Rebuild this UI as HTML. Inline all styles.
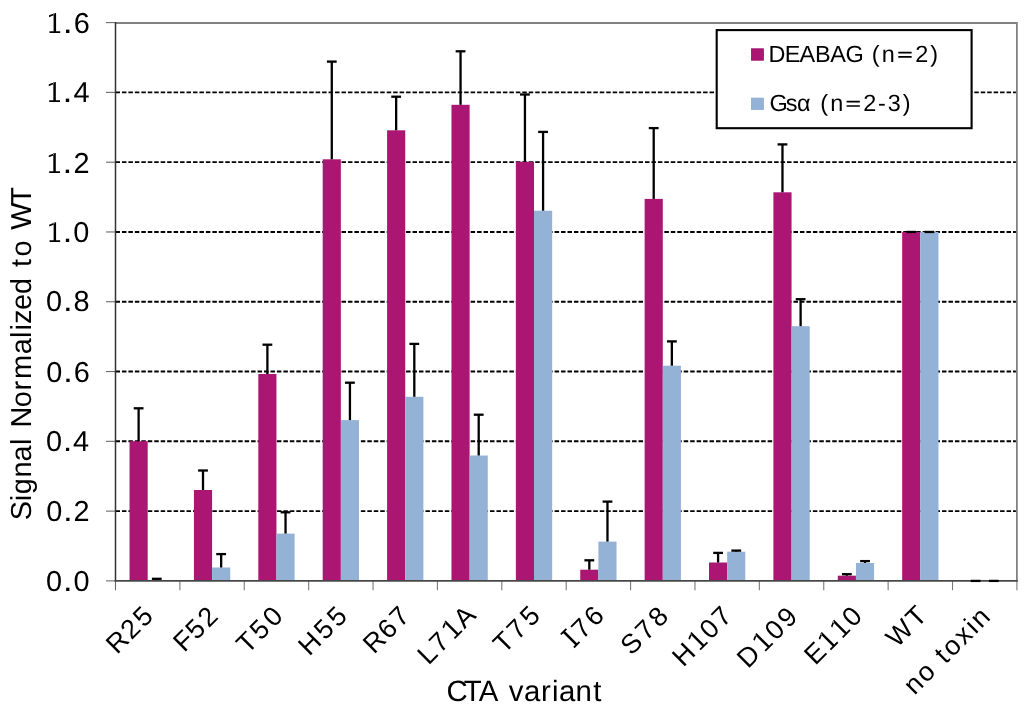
<!DOCTYPE html><html><head><meta charset="utf-8"><style>html,body{margin:0;padding:0;background:#fff;}svg{display:block;}text{font-family:"Liberation Sans", sans-serif;}</style></head><body>
<svg style="will-change:transform" width="1024" height="706" viewBox="0 0 1024 706" text-rendering="geometricPrecision">
<rect x="0" y="0" width="1024" height="706" fill="#fff"/>
<path d="M115.5 23.0H1016.9V580.9" fill="none" stroke="#828282" stroke-width="1.8"/>
<line x1="115.5" y1="511.11" x2="1015.9" y2="511.11" stroke="#000" stroke-width="1.9" stroke-dasharray="4.5 1.957"/>
<line x1="115.5" y1="441.32" x2="1015.9" y2="441.32" stroke="#000" stroke-width="1.9" stroke-dasharray="4.5 1.957"/>
<line x1="115.5" y1="371.54" x2="1015.9" y2="371.54" stroke="#000" stroke-width="1.9" stroke-dasharray="4.5 1.957"/>
<line x1="115.5" y1="301.75" x2="1015.9" y2="301.75" stroke="#000" stroke-width="1.9" stroke-dasharray="4.5 1.957"/>
<line x1="115.5" y1="231.96" x2="1015.9" y2="231.96" stroke="#000" stroke-width="1.9" stroke-dasharray="4.5 1.957"/>
<line x1="115.5" y1="162.17" x2="1015.9" y2="162.17" stroke="#000" stroke-width="1.9" stroke-dasharray="4.5 1.957"/>
<line x1="115.5" y1="92.39" x2="1015.9" y2="92.39" stroke="#000" stroke-width="1.9" stroke-dasharray="4.5 1.957"/>
<rect x="129.54" y="441.20" width="18.15" height="139.70" fill="#AB1672"/>
<rect x="147.69" y="580.00" width="18.15" height="0.90" fill="#94B2D6"/>
<rect x="193.93" y="490.00" width="18.15" height="90.90" fill="#AB1672"/>
<rect x="212.08" y="567.50" width="18.15" height="13.40" fill="#94B2D6"/>
<rect x="258.31" y="374.00" width="18.15" height="206.90" fill="#AB1672"/>
<rect x="276.46" y="533.60" width="18.15" height="47.30" fill="#94B2D6"/>
<rect x="322.70" y="159.30" width="18.15" height="421.60" fill="#AB1672"/>
<rect x="340.85" y="420.10" width="18.15" height="160.80" fill="#94B2D6"/>
<rect x="387.09" y="130.30" width="18.15" height="450.60" fill="#AB1672"/>
<rect x="405.24" y="396.80" width="18.15" height="184.10" fill="#94B2D6"/>
<rect x="451.47" y="104.80" width="18.15" height="476.10" fill="#AB1672"/>
<rect x="469.62" y="455.50" width="18.15" height="125.40" fill="#94B2D6"/>
<rect x="515.86" y="161.80" width="18.15" height="419.10" fill="#AB1672"/>
<rect x="534.01" y="210.70" width="18.15" height="370.20" fill="#94B2D6"/>
<rect x="580.24" y="569.70" width="18.15" height="11.20" fill="#AB1672"/>
<rect x="598.39" y="541.60" width="18.15" height="39.30" fill="#94B2D6"/>
<rect x="644.63" y="198.90" width="18.15" height="382.00" fill="#AB1672"/>
<rect x="662.78" y="365.70" width="18.15" height="215.20" fill="#94B2D6"/>
<rect x="709.01" y="562.50" width="18.15" height="18.40" fill="#AB1672"/>
<rect x="727.16" y="551.70" width="18.15" height="29.20" fill="#94B2D6"/>
<rect x="773.40" y="192.30" width="18.15" height="388.60" fill="#AB1672"/>
<rect x="791.55" y="326.20" width="18.15" height="254.70" fill="#94B2D6"/>
<rect x="837.79" y="575.70" width="18.15" height="5.20" fill="#AB1672"/>
<rect x="855.94" y="563.00" width="18.15" height="17.90" fill="#94B2D6"/>
<rect x="902.17" y="231.96" width="18.15" height="348.94" fill="#AB1672"/>
<rect x="920.32" y="231.96" width="18.15" height="348.94" fill="#94B2D6"/>
<rect x="966.56" y="580.90" width="18.15" height="0.00" fill="#AB1672"/>
<rect x="984.71" y="580.90" width="18.15" height="0.00" fill="#94B2D6"/>
<line x1="106.0" y1="580.90" x2="115.5" y2="580.90" stroke="#6a6a6a" stroke-width="1.1"/>
<line x1="106.0" y1="511.11" x2="115.5" y2="511.11" stroke="#6a6a6a" stroke-width="1.1"/>
<line x1="106.0" y1="441.32" x2="115.5" y2="441.32" stroke="#6a6a6a" stroke-width="1.1"/>
<line x1="106.0" y1="371.54" x2="115.5" y2="371.54" stroke="#6a6a6a" stroke-width="1.1"/>
<line x1="106.0" y1="301.75" x2="115.5" y2="301.75" stroke="#6a6a6a" stroke-width="1.1"/>
<line x1="106.0" y1="231.96" x2="115.5" y2="231.96" stroke="#6a6a6a" stroke-width="1.1"/>
<line x1="106.0" y1="162.17" x2="115.5" y2="162.17" stroke="#6a6a6a" stroke-width="1.1"/>
<line x1="106.0" y1="92.39" x2="115.5" y2="92.39" stroke="#6a6a6a" stroke-width="1.1"/>
<line x1="106.0" y1="22.60" x2="115.5" y2="22.60" stroke="#6a6a6a" stroke-width="1.1"/>
<line x1="115.5" y1="580.9" x2="115.5" y2="590.3" stroke="#6a6a6a" stroke-width="1.1"/>
<line x1="179.89" y1="580.9" x2="179.89" y2="590.1999999999999" stroke="#7a7a7a" stroke-width="1.1"/>
<line x1="244.27" y1="580.9" x2="244.27" y2="590.1999999999999" stroke="#7a7a7a" stroke-width="1.1"/>
<line x1="308.66" y1="580.9" x2="308.66" y2="590.1999999999999" stroke="#7a7a7a" stroke-width="1.1"/>
<line x1="373.04" y1="580.9" x2="373.04" y2="590.1999999999999" stroke="#7a7a7a" stroke-width="1.1"/>
<line x1="437.43" y1="580.9" x2="437.43" y2="590.1999999999999" stroke="#7a7a7a" stroke-width="1.1"/>
<line x1="501.81" y1="580.9" x2="501.81" y2="590.1999999999999" stroke="#7a7a7a" stroke-width="1.1"/>
<line x1="566.20" y1="580.9" x2="566.20" y2="590.1999999999999" stroke="#7a7a7a" stroke-width="1.1"/>
<line x1="630.59" y1="580.9" x2="630.59" y2="590.1999999999999" stroke="#7a7a7a" stroke-width="1.1"/>
<line x1="694.97" y1="580.9" x2="694.97" y2="590.1999999999999" stroke="#7a7a7a" stroke-width="1.1"/>
<line x1="759.36" y1="580.9" x2="759.36" y2="590.1999999999999" stroke="#7a7a7a" stroke-width="1.1"/>
<line x1="823.74" y1="580.9" x2="823.74" y2="590.1999999999999" stroke="#7a7a7a" stroke-width="1.1"/>
<line x1="888.13" y1="580.9" x2="888.13" y2="590.1999999999999" stroke="#7a7a7a" stroke-width="1.1"/>
<line x1="952.51" y1="580.9" x2="952.51" y2="590.1999999999999" stroke="#7a7a7a" stroke-width="1.1"/>
<line x1="1016.90" y1="580.9" x2="1016.90" y2="590.1999999999999" stroke="#7a7a7a" stroke-width="1.1"/>
<line x1="115.5" y1="22.0" x2="115.5" y2="581.6999999999999" stroke="#333" stroke-width="1.5"/>
<line x1="114.75" y1="580.9" x2="1017.8" y2="580.9" stroke="#484848" stroke-width="1.6"/>
<line x1="138.62" y1="441.20" x2="138.62" y2="408.30" stroke="#000" stroke-width="2.3"/>
<line x1="133.72" y1="408.30" x2="143.52" y2="408.30" stroke="#000" stroke-width="2.3"/>
<line x1="156.77" y1="580.00" x2="156.77" y2="578.80" stroke="#000" stroke-width="2.3"/>
<line x1="151.87" y1="578.80" x2="161.67" y2="578.80" stroke="#000" stroke-width="2.3"/>
<line x1="203.00" y1="490.00" x2="203.00" y2="470.50" stroke="#000" stroke-width="2.3"/>
<line x1="198.10" y1="470.50" x2="207.90" y2="470.50" stroke="#000" stroke-width="2.3"/>
<line x1="221.15" y1="567.50" x2="221.15" y2="554.10" stroke="#000" stroke-width="2.3"/>
<line x1="216.25" y1="554.10" x2="226.05" y2="554.10" stroke="#000" stroke-width="2.3"/>
<line x1="267.39" y1="374.00" x2="267.39" y2="344.70" stroke="#000" stroke-width="2.3"/>
<line x1="262.49" y1="344.70" x2="272.29" y2="344.70" stroke="#000" stroke-width="2.3"/>
<line x1="285.54" y1="533.60" x2="285.54" y2="512.30" stroke="#000" stroke-width="2.3"/>
<line x1="280.64" y1="512.30" x2="290.44" y2="512.30" stroke="#000" stroke-width="2.3"/>
<line x1="331.78" y1="159.30" x2="331.78" y2="61.60" stroke="#000" stroke-width="2.3"/>
<line x1="326.88" y1="61.60" x2="336.68" y2="61.60" stroke="#000" stroke-width="2.3"/>
<line x1="349.93" y1="420.10" x2="349.93" y2="382.70" stroke="#000" stroke-width="2.3"/>
<line x1="345.03" y1="382.70" x2="354.82" y2="382.70" stroke="#000" stroke-width="2.3"/>
<line x1="396.16" y1="130.30" x2="396.16" y2="96.70" stroke="#000" stroke-width="2.3"/>
<line x1="391.26" y1="96.70" x2="401.06" y2="96.70" stroke="#000" stroke-width="2.3"/>
<line x1="414.31" y1="396.80" x2="414.31" y2="343.90" stroke="#000" stroke-width="2.3"/>
<line x1="409.41" y1="343.90" x2="419.21" y2="343.90" stroke="#000" stroke-width="2.3"/>
<line x1="460.55" y1="104.80" x2="460.55" y2="51.30" stroke="#000" stroke-width="2.3"/>
<line x1="455.65" y1="51.30" x2="465.45" y2="51.30" stroke="#000" stroke-width="2.3"/>
<line x1="478.70" y1="455.50" x2="478.70" y2="414.70" stroke="#000" stroke-width="2.3"/>
<line x1="473.80" y1="414.70" x2="483.60" y2="414.70" stroke="#000" stroke-width="2.3"/>
<line x1="524.93" y1="161.80" x2="524.93" y2="94.50" stroke="#000" stroke-width="2.3"/>
<line x1="520.03" y1="94.50" x2="529.83" y2="94.50" stroke="#000" stroke-width="2.3"/>
<line x1="543.08" y1="210.70" x2="543.08" y2="131.90" stroke="#000" stroke-width="2.3"/>
<line x1="538.18" y1="131.90" x2="547.98" y2="131.90" stroke="#000" stroke-width="2.3"/>
<line x1="589.32" y1="569.70" x2="589.32" y2="560.30" stroke="#000" stroke-width="2.3"/>
<line x1="584.42" y1="560.30" x2="594.22" y2="560.30" stroke="#000" stroke-width="2.3"/>
<line x1="607.47" y1="541.60" x2="607.47" y2="501.60" stroke="#000" stroke-width="2.3"/>
<line x1="602.57" y1="501.60" x2="612.37" y2="501.60" stroke="#000" stroke-width="2.3"/>
<line x1="653.70" y1="198.90" x2="653.70" y2="128.10" stroke="#000" stroke-width="2.3"/>
<line x1="648.80" y1="128.10" x2="658.60" y2="128.10" stroke="#000" stroke-width="2.3"/>
<line x1="671.85" y1="365.70" x2="671.85" y2="341.40" stroke="#000" stroke-width="2.3"/>
<line x1="666.95" y1="341.40" x2="676.75" y2="341.40" stroke="#000" stroke-width="2.3"/>
<line x1="718.09" y1="562.50" x2="718.09" y2="552.90" stroke="#000" stroke-width="2.3"/>
<line x1="713.19" y1="552.90" x2="722.99" y2="552.90" stroke="#000" stroke-width="2.3"/>
<line x1="736.24" y1="551.70" x2="736.24" y2="550.60" stroke="#000" stroke-width="2.3"/>
<line x1="731.34" y1="550.60" x2="741.14" y2="550.60" stroke="#000" stroke-width="2.3"/>
<line x1="782.47" y1="192.30" x2="782.47" y2="144.40" stroke="#000" stroke-width="2.3"/>
<line x1="777.57" y1="144.40" x2="787.37" y2="144.40" stroke="#000" stroke-width="2.3"/>
<line x1="800.62" y1="326.20" x2="800.62" y2="299.20" stroke="#000" stroke-width="2.3"/>
<line x1="795.73" y1="299.20" x2="805.52" y2="299.20" stroke="#000" stroke-width="2.3"/>
<line x1="846.86" y1="575.70" x2="846.86" y2="574.20" stroke="#000" stroke-width="2.3"/>
<line x1="841.96" y1="574.20" x2="851.76" y2="574.20" stroke="#000" stroke-width="2.3"/>
<line x1="865.01" y1="563.00" x2="865.01" y2="561.10" stroke="#000" stroke-width="2.3"/>
<line x1="860.11" y1="561.10" x2="869.91" y2="561.10" stroke="#000" stroke-width="2.3"/>
<line x1="906.35" y1="231.96" x2="916.15" y2="231.96" stroke="#000" stroke-width="2.3"/>
<line x1="924.50" y1="231.96" x2="934.30" y2="231.96" stroke="#000" stroke-width="2.3"/>
<line x1="970.73" y1="580.90" x2="980.53" y2="580.90" stroke="#000" stroke-width="2.3"/>
<line x1="988.88" y1="580.90" x2="998.68" y2="580.90" stroke="#000" stroke-width="2.3"/>
<rect x="716.7" y="30.1" width="254.9" height="98.1" fill="#fff" stroke="#000" stroke-width="2.1"/>
<rect x="751.4" y="48.8" width="12" height="11.4" fill="#AB1672" stroke="#A3086B" stroke-width="0.8"/>
<rect x="751.4" y="98.1" width="12" height="11.4" fill="#94B2D6" stroke="#8CABD3" stroke-width="0.8"/>
<text transform="translate(90.33 590.68)" x="-44.39 -16.81" y="0" font-size="28.9" fill="#000">00</text><path transform="translate(90.33 591) translate(-22.56 0) scale(27.593)" d="M-0.06 0V-0.12H0.06V0Z" fill="#000"/>
<text transform="translate(90.26 520.72)" x="-44.12 -16.74" y="0" font-size="28.9" fill="#000">02</text><path transform="translate(90.26 521) translate(-22.39 0) scale(27.388)" d="M-0.06 0V-0.12H0.06V0Z" fill="#000"/>
<text transform="translate(89.55 451.00)" x="-43.46 -16.58" y="0" font-size="28.9" fill="#000">04</text><path transform="translate(89.55 451) translate(-21.98 0) scale(26.887)" d="M-0.06 0V-0.12H0.06V0Z" fill="#000"/>
<text transform="translate(90.52 381.76)" x="-44.39 -16.81" y="0" font-size="28.9" fill="#000">06</text><path transform="translate(90.52 382) translate(-22.56 0) scale(27.596)" d="M-0.06 0V-0.12H0.06V0Z" fill="#000"/>
<text transform="translate(90.23 311.27)" x="-44.14 -16.75" y="0" font-size="28.9" fill="#000">08</text><path transform="translate(90.23 311) translate(-22.41 0) scale(27.409)" d="M-0.06 0V-0.12H0.06V0Z" fill="#000"/>
<text transform="translate(90.20 241.92)" x="-16.86" y="0" font-size="28.9" fill="#000">0</text><path transform="translate(90.20 242) translate(-36.57 0) scale(27.758)" d="M0.0 0V-0.71H0.088V0ZM0.05 -0.71L-0.16 -0.625L-0.16 -0.555L0.0 -0.625ZM-0.145 0V-0.066H0.235V0Z" fill="#000"/><path transform="translate(90.20 242) translate(-22.69 0) scale(27.758)" d="M-0.06 0V-0.12H0.06V0Z" fill="#000"/>
<text transform="translate(90.45 172.56)" x="-17.00" y="0" font-size="28.9" fill="#000">2</text><path transform="translate(90.45 173) translate(-37.14 0) scale(28.192)" d="M0.0 0V-0.71H0.088V0ZM0.05 -0.71L-0.16 -0.625L-0.16 -0.555L0.0 -0.625ZM-0.145 0V-0.066H0.235V0Z" fill="#000"/><path transform="translate(90.45 173) translate(-23.05 0) scale(28.192)" d="M-0.06 0V-0.12H0.06V0Z" fill="#000"/>
<text transform="translate(90.62 102.47)" x="-17.03" y="0" font-size="28.9" fill="#000">4</text><path transform="translate(90.62 102) translate(-37.28 0) scale(28.302)" d="M0.0 0V-0.71H0.088V0ZM0.05 -0.71L-0.16 -0.625L-0.16 -0.555L0.0 -0.625ZM-0.145 0V-0.066H0.235V0Z" fill="#000"/><path transform="translate(90.62 102) translate(-23.14 0) scale(28.302)" d="M-0.06 0V-0.12H0.06V0Z" fill="#000"/>
<text transform="translate(90.83 32.86)" x="-17.02" y="0" font-size="28.9" fill="#000">6</text><path transform="translate(90.83 33) translate(-37.24 0) scale(28.272)" d="M0.0 0V-0.71H0.088V0ZM0.05 -0.71L-0.16 -0.625L-0.16 -0.555L0.0 -0.625ZM-0.145 0V-0.066H0.235V0Z" fill="#000"/><path transform="translate(90.83 33) translate(-23.11 0) scale(28.272)" d="M-0.06 0V-0.12H0.06V0Z" fill="#000"/>
<text transform="translate(155.48 616.64) rotate(-45)" x="-54.43 -33.82 -16.28" y="0" font-size="27.0" fill="#000">R25</text>
<text transform="translate(220.17 617.19) rotate(-45)" x="-50.63 -33.44 -16.15" y="0" font-size="27.0" fill="#000">F52</text>
<text transform="translate(285.64 616.47) rotate(-45)" x="-54.12 -35.20 -16.74" y="0" font-size="27.0" fill="#000">T50</text>
<text transform="translate(349.75 616.40) rotate(-45)" x="-57.12 -34.93 -16.65" y="0" font-size="27.0" fill="#000">H55</text>
<text transform="translate(412.02 616.91) rotate(-45)" x="-53.67 -33.37 -16.13" y="0" font-size="27.0" fill="#000">R67</text>
<text transform="translate(477.63 616.52) rotate(-45)" x="-69.62 -53.04 -18.51" y="0" font-size="27.0" fill="#000">L7A</text><path transform="translate(477.63 616.52) rotate(-45) translate(-27.86 0) scale(27.806)" d="M0.0 0V-0.71H0.088V0ZM0.05 -0.71L-0.16 -0.625L-0.16 -0.555L0.0 -0.625ZM-0.145 0V-0.066H0.235V0Z" fill="#000"/>
<text transform="translate(542.74 616.01) rotate(-45)" x="-54.30 -35.30 -16.77" y="0" font-size="27.0" fill="#000">T75</text>
<text transform="translate(606.61 616.10) rotate(-45)" x="-34.15 -16.39" y="0" font-size="27.0" fill="#000">76</text><path transform="translate(606.61 616.10) rotate(-45) translate(-41.40 0) scale(27.937)" d="M-0.045 0V-0.727H0.045V0ZM-0.14 -0.727H0.14V-0.662H-0.14ZM-0.14 0V-0.065H0.14V0Z" fill="#000"/>
<text transform="translate(671.04 616.77) rotate(-45)" x="-55.91 -35.23 -16.75" y="0" font-size="27.0" fill="#000">S78</text>
<text transform="translate(734.18 616.79) rotate(-45)" x="-72.06 -33.53 -16.18" y="0" font-size="27.0" fill="#000">H07</text><path transform="translate(734.18 616.79) rotate(-45) translate(-43.37 0) scale(27.290)" d="M0.0 0V-0.71H0.088V0ZM0.05 -0.71L-0.16 -0.625L-0.16 -0.555L0.0 -0.625ZM-0.145 0V-0.066H0.235V0Z" fill="#000"/>
<text transform="translate(799.91 617.36) rotate(-45)" x="-73.42 -34.00 -16.34" y="0" font-size="27.0" fill="#000">D09</text><path transform="translate(799.91 617.36) rotate(-45) translate(-44.15 0) scale(27.778)" d="M0.0 0V-0.71H0.088V0ZM0.05 -0.71L-0.16 -0.625L-0.16 -0.555L0.0 -0.625ZM-0.145 0V-0.066H0.235V0Z" fill="#000"/>
<text transform="translate(864.55 616.72) rotate(-45)" x="-69.76 -16.20" y="0" font-size="27.0" fill="#000">E0</text><path transform="translate(864.55 616.72) rotate(-45) translate(-43.43 0) scale(27.330)" d="M0.0 0V-0.71H0.088V0ZM0.05 -0.71L-0.16 -0.625L-0.16 -0.555L0.0 -0.625ZM-0.145 0V-0.066H0.235V0Z" fill="#000"/><path transform="translate(864.55 616.72) rotate(-45) translate(-26.06 0) scale(27.330)" d="M0.0 0V-0.71H0.088V0ZM0.05 -0.71L-0.16 -0.625L-0.16 -0.555L0.0 -0.625ZM-0.145 0V-0.066H0.235V0Z" fill="#000"/>
<text transform="translate(929.06 616.60) rotate(-45)" x="-45.19 -17.26" y="0" font-size="27.0" fill="#000">WT</text>
<text transform="translate(992.45 617.66) rotate(-45)" x="-110.41 -93.52 -66.54 -56.66 -39.58 -24.01 -16.14" y="0" font-size="27.0" fill="#000">notoxin</text>
<text transform="translate(30.60 519.54) rotate(-90)" x="-0.63 18.41 25.39 41.93 58.16 74.49" y="0" font-size="28.9" fill="#000">Signal</text>
<text transform="translate(30.60 427.09) rotate(-90)" x="-0.53 19.78 36.67 47.98 72.81 89.21 96.47 103.03 117.06 133.20" y="0" font-size="28.9" fill="#000">Normalized</text>
<text transform="translate(30.60 268.66) rotate(-90)" x="1.67 12.05" y="0" font-size="28.9" fill="#000">to</text>
<text transform="translate(30.60 228.71) rotate(-90)" x="-1.15 23.95" y="0" font-size="28.9" fill="#000">WT</text>
<text transform="translate(448.63 700.73)" x="-2.22 15.23 30.02" y="0" font-size="29.4" fill="#000">CTA</text>
<text transform="translate(508.17 700.62)" x="0.60 15.79 32.86 43.91 50.74 67.30 85.18" y="0" font-size="29.4" fill="#000">variant</text>
<text transform="translate(768.23 62.30)" x="0.18 16.57 31.34 46.72 62.11 77.19" y="0" font-size="23.45" fill="#000">DEABAG</text>
<text transform="translate(870.48 62.30)" x="1.33 11.24 44.72 59.90" y="0" font-size="23.45" fill="#000">(n2)</text><path transform="translate(870.48 62) translate(34.49 0) scale(23.055)" d="M-0.29 -0.445H0.29V-0.372H-0.29ZM-0.29 -0.255H0.29V-0.182H-0.29Z" fill="#000"/>
<text transform="translate(770.78 111.30)" x="-1.28 15.10 26.13" y="0" font-size="23.45" fill="#000">Gsα</text>
<text transform="translate(819.06 111.30)" x="1.28 11.09 44.27 59.07 68.64 83.71" y="0" font-size="23.45" fill="#000">(n2-3)</text><path transform="translate(819.06 111) translate(34.18 0) scale(22.852)" d="M-0.29 -0.445H0.29V-0.372H-0.29ZM-0.29 -0.255H0.29V-0.182H-0.29Z" fill="#000"/>
</svg></body></html>
